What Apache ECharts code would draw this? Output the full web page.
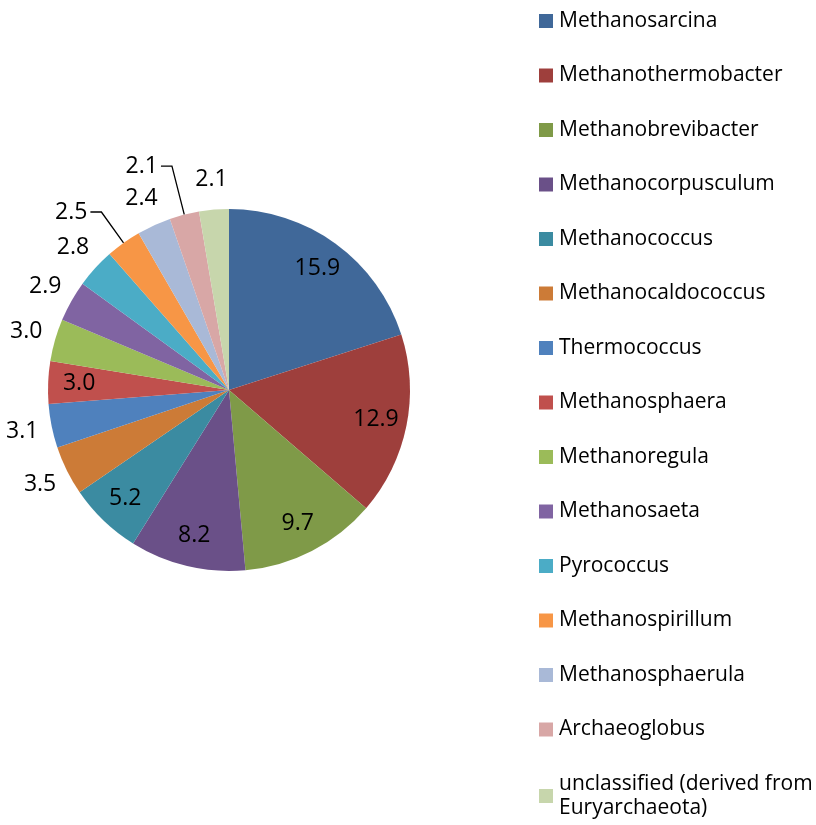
<!DOCTYPE html>
<html>
<head>
<meta charset="utf-8">
<script src="https://cdn.jsdelivr.net/npm/echarts@6/dist/echarts.min.js"></script>
<style>
  html, body { margin: 0; padding: 0; background: #fff; }
  #main { width: 816px; height: 825px; }
</style>
</head>
<body>
<div id="main"></div>
<script>
// 类别与数值
const genera = [
  'Methanosarcina', 'Methanothermobacter', 'Methanobrevibacter', 'Methanocorpusculum',
  'Methanococcus', 'Methanocaldococcus', 'Thermococcus', 'Methanosphaera',
  'Methanoregula', 'Methanosaeta', 'Pyrococcus', 'Methanospirillum',
  'Methanosphaerula', 'Archaeoglobus', 'unclassified (derived from Euryarchaeota)'
]
const percents = [15.9, 12.9, 9.7, 8.2, 5.2, 3.5, 3.1, 3.0, 3.0, 2.9, 2.8, 2.5, 2.4, 2.1, 2.1]

// 每块的颜色（Excel 配色）
const colors = [
  '#406899', '#9e3f3c', '#7f9a48', '#6a5088', '#3b8ba1', '#cc7b37',
  '#4f81bd', '#c0504d', '#9bbb59', '#8064a2', '#4bacc6', '#f79646',
  '#a9b9d7', '#d8a7a6', '#c7d6ac'
]
// 标签放在哪：in = 扇区内，out = 扇区外，lead = 带引导线
const labelPlace = ['in', 'in', 'in', 'in', 'in', 'out', 'out', 'in', 'out', 'out', 'out', 'lead', 'out', 'lead', 'out']
// 引导线长度（只对 lead 有用）
const leadLen = { 'Methanospirillum': 38, 'Archaeoglobus': 50 }

const FONT = 'Open Sans'
const center = [229, 390]
const R = 181

let myChart = echarts.init(document.getElementById('main'))

// 主饼图数据
let mainData = genera.map((name, i) => ({
  name: name,
  value: percents[i],
  itemStyle: { color: colors[i] },
  label: { show: labelPlace[i] === 'lead' },
  labelLine: { show: labelPlace[i] === 'lead', length: leadLen[name] || 40 }
}))

// 只用来放标签的透明圆环
function ghost(place, radius) {
  return {
    type: 'pie',
    center: center,
    radius: radius,
    silent: true,
    avoidLabelOverlap: false,
    itemStyle: { color: 'rgba(0,0,0,0)', borderWidth: 0 },
    emphasis: { disabled: true },
    labelLine: { show: false },
    label: {
      position: 'inside',
      fontFamily: FONT,
      fontSize: 23,
      color: '#000',
      formatter: p => p.value.toFixed(1)
    },
    data: genera.map((name, i) => ({
      name: name,
      value: percents[i],
      label: { show: labelPlace[i] === place }
    }))
  }
}

let option = {
  animation: false,
  legend: {
    orient: 'vertical',
    left: 539,
    top: 9,
    height: 825,
    padding: 0,
    itemWidth: 14,
    itemHeight: 14,
    itemGap: 30.5,
    icon: 'rect',
    selectedMode: false,
    data: genera,
    textStyle: {
      fontFamily: FONT,
      fontSize: 21,
      lineHeight: 24,
      color: '#000',
      width: 266,
      overflow: 'break',
      padding: [0, 0, 0, 1]
    }
  },
  series: [
    {
      name: 'main',
      type: 'pie',
      center: center,
      radius: [0, R],
      startAngle: 90,
      clockwise: true,
      avoidLabelOverlap: false,
      emphasis: { disabled: true },
      itemStyle: { borderWidth: 0 },
      label: {
        position: 'outside',
        fontFamily: FONT,
        fontSize: 23,
        color: '#000',
        distanceToLabelLine: 3,
        padding: [0, 0, 14, 0],
        formatter: p => p.value.toFixed(1)
      },
      labelLine: {
        length2: 11,
        smooth: false,
        lineStyle: { color: '#000', width: 1.3 }
      },
      data: mainData
    },
    ghost('in', [113, R]),
    ghost('out', [R, 235])
  ]
}

option && myChart.setOption(option)
</script>
</body>
</html>
